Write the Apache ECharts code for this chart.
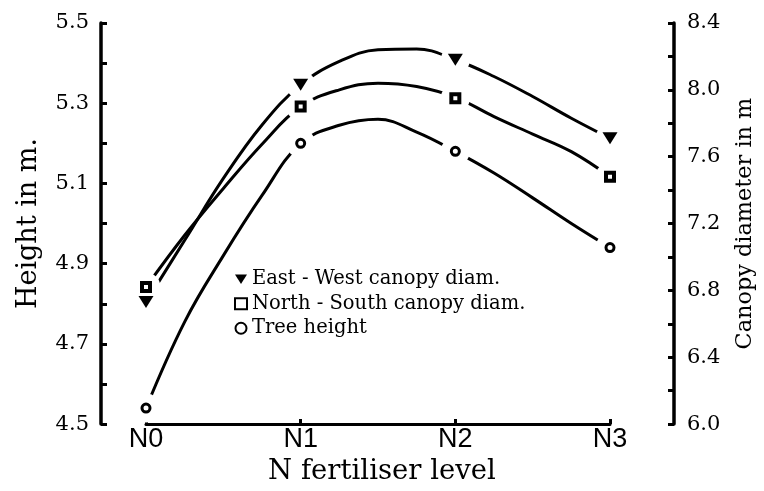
<!DOCTYPE html>
<html>
<head>
<meta charset="utf-8">
<script src="https://cdn.jsdelivr.net/npm/echarts@6/dist/echarts.min.js"></script>
<style>html,body{margin:0;padding:0;background:#fff}#c{width:764px;height:491px}</style>
</head>
<body>
<div id="c"></div>
<script>
// Measured points (markers)
const categories = ['N0', 'N1', 'N2', 'N3'];
const eastWest = [6.73, 8.03, 8.18, 7.71];
const northSouth = [6.82, 7.90, 7.95, 7.48];
const treeHeight = [4.54, 5.20, 5.18, 4.94];
// Fitted curves at quarter steps between levels
const curvePos = [0, 0.25, 0.5, 0.75, 1, 1.25, 1.5, 1.75, 2, 2.25, 2.5, 2.75, 3];
const eastWestCurve = [6.73, 7.10, 7.47, 7.79, 8.03, 8.17, 8.24, 8.245, 8.18, 8.08, 7.96, 7.83, 7.71];
const northSouthCurve = [6.82, 7.13, 7.41, 7.675, 7.90, 8.00, 8.04, 8.02, 7.955, 7.84, 7.735, 7.63, 7.48];
const treeHeightCurve = [4.54, 4.755, 4.92, 5.07, 5.20, 5.245, 5.26, 5.228, 5.18, 5.126, 5.064, 5.0, 4.94];

const seriesNames = ['East - West canopy diam.', 'North - South canopy diam.', 'Tree height'];
const heightAxis = { name: 'Height in m.', min: 4.5, max: 5.5, interval: 0.2 };
const canopyAxis = { name: 'Canopy diameter in m', min: 6.0, max: 8.4, interval: 0.4 };
const xName = 'N fertiliser level';

const serif = 'DejaVu Serif';
const black = '#000';
const chart = echarts.init(document.getElementById('c'), null, { renderer: 'canvas' });

function pairs(xs, ys) { return xs.map((x, i) => [x, ys[i]]); }
function catPairs(ys) { return ys.map((v, i) => [categories[i], v]); }
function curveSeries(ys, yIdx) {
  return { type: 'line', data: pairs(curvePos, ys), xAxisIndex: 1, yAxisIndex: yIdx, smooth: 0.4,
    symbol: 'none', lineStyle: { color: black, width: 3 }, z: 1 };
}
function haloSeries(name, ys, yIdx) {
  return { name: name, type: 'scatter', data: catPairs(ys), xAxisIndex: 0, yAxisIndex: yIdx,
    symbol: 'circle', symbolSize: 29, itemStyle: { color: '#ffffff', opacity: 1 }, z: 5 };
}
const tri = 'path://M0,0 L10,0 L5,8 Z';

chart.setOption({
  animation: false,
  backgroundColor: '#fff',
  grid: { left: 146, right: 154, top: 23, bottom: 63 },
  legend: {
    orient: 'vertical', left: 229, top: 264, itemGap: 4, itemWidth: 12, itemHeight: 11,
    textStyle: { fontFamily: serif, fontSize: 19.5, color: black, lineHeight: 20.5 },
    data: [
      { name: seriesNames[0], icon: tri },
      { name: seriesNames[1], icon: 'rect' },
      { name: seriesNames[2], icon: 'circle' }
    ]
  },
  xAxis: [
    {
      type: 'category', data: categories, boundaryGap: false,
      name: xName, nameLocation: 'middle', nameGap: 11,
      nameTextStyle: { fontFamily: serif, fontSize: 27.5, color: black, padding: [0, 0, 0, 8] },
      axisLine: { onZero: false, lineStyle: { color: black, width: 3 } },
      axisTick: { inside: true, length: 5, lineStyle: { color: black, width: 3 } },
      axisLabel: { margin: 2, fontFamily: 'Liberation Sans', fontSize: 27, color: black }
    },
    { type: 'value', min: 0, max: 3, show: false, axisLine: { onZero: false } }
  ],
  yAxis: [
    {
      type: 'value', position: 'left', offset: 45,
      min: heightAxis.min, max: heightAxis.max, interval: heightAxis.interval,
      name: heightAxis.name, nameLocation: 'middle', nameRotate: 90, nameGap: 59,
      nameTextStyle: { fontFamily: serif, fontSize: 27, color: black },
      axisLine: { show: true, onZero: false, lineStyle: { color: black, width: 3.5 } },
      axisTick: { show: true, inside: true, length: 6, lineStyle: { color: black, width: 3 } },
      minorTick: { show: true, splitNumber: 2, length: 6, lineStyle: { color: black, width: 3 } },
      splitLine: { show: false },
      axisLabel: { margin: 12, fontFamily: serif, fontSize: 21, color: black,
        formatter: v => v.toFixed(1) }
    },
    {
      type: 'value', position: 'right', offset: 64,
      min: canopyAxis.min, max: canopyAxis.max, interval: canopyAxis.interval,
      name: canopyAxis.name, nameLocation: 'middle', nameRotate: 90, nameGap: 60,
      nameTextStyle: { fontFamily: serif, fontSize: 22.4, color: black },
      axisLine: { show: true, onZero: false, lineStyle: { color: black, width: 3.5 } },
      axisTick: { show: true, inside: true, length: 6, lineStyle: { color: black, width: 3 } },
      minorTick: { show: true, splitNumber: 2, length: 6, lineStyle: { color: black, width: 3 } },
      splitLine: { show: false },
      axisLabel: { margin: 13, fontFamily: serif, fontSize: 21, color: black,
        formatter: v => v.toFixed(1) }
    }
  ],
  series: [
    curveSeries(eastWestCurve, 1),
    curveSeries(northSouthCurve, 1),
    curveSeries(treeHeightCurve, 0),
    haloSeries('halo-ew', eastWest, 1),
    haloSeries('halo-ns', northSouth, 1),
    haloSeries('halo-th', treeHeight, 0),
    { name: seriesNames[0], type: 'scatter', data: catPairs(eastWest), xAxisIndex: 0, yAxisIndex: 1, symbol: tri,
      symbolSize: [15, 12], itemStyle: { color: black, opacity: 1 }, z: 6 },
    { name: seriesNames[1], type: 'scatter', data: catPairs(northSouth), xAxisIndex: 0, yAxisIndex: 1, symbol: 'rect',
      symbolSize: 8, itemStyle: { color: '#fff', borderColor: black, borderWidth: 4, opacity: 1 }, z: 6 },
    { name: seriesNames[2], type: 'scatter', data: catPairs(treeHeight), xAxisIndex: 0, yAxisIndex: 0, symbol: 'circle',
      symbolSize: 8, itemStyle: { color: '#fff', borderColor: black, borderWidth: 3, opacity: 1 }, z: 6 }
  ]
});
</script>
</body>
</html>
